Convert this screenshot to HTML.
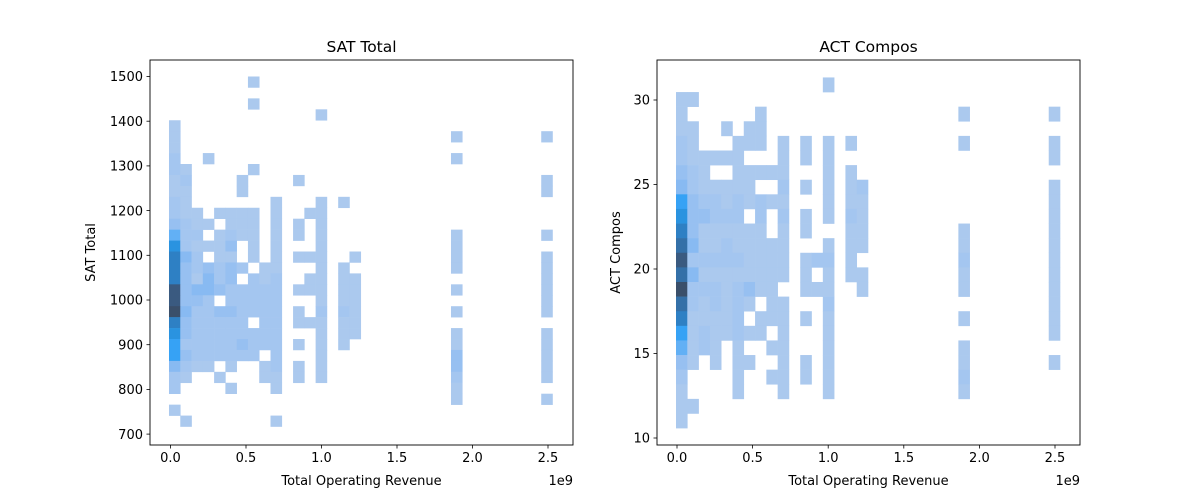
<!DOCTYPE html>
<html><head><meta charset="utf-8"><style>
html,body{margin:0;padding:0;background:#fff;}
svg{display:block;font-family:"DejaVu Sans","Liberation Sans",sans-serif;}
</style></head><body>
<svg id="fig" width="1200" height="500" viewBox="0 0 1200 500" xmlns="http://www.w3.org/2000/svg">
<rect width="1200" height="500" fill="#fff"/>
<g id="left"></g>
<g id="right"></g>
</svg>
<script>
// ---- data: [row, col, count] bins ----
const revTicks = [0, 0.5, 1.0, 1.5, 2.0, 2.5];
const revTickLabels = ["0.0", "0.5", "1.0", "1.5", "2.0", "2.5"];
const satTicks = [700, 800, 900, 1000, 1100, 1200, 1300, 1400, 1500];
const actTicks = [10, 15, 20, 25, 30];
const revBinWidth = 0.0747;
const satBinHeight = 24.47;
const actBinHeight = 0.8645;
const satTop = 1500;
const actTop = 30.47;
const satCells = [
[0,7,1],[2,7,1],[3,13,1],[4,0,1],[5,0,1],[5,25,1],[5,33,1],[6,0,1],[7,0,2],[7,3,1],[7,25,1],
[8,0,2],[8,1,1],[8,7,1],[9,0,1],[9,1,2],[9,6,1],[9,11,1],[9,33,1],[10,0,1],[10,1,1],[10,6,1],[10,33,1],
[11,0,2],[11,1,1],[11,9,1],[11,13,1],[11,15,1],
[12,0,2],[12,1,1],[12,2,1],[12,4,1],[12,5,1],[12,6,1],[12,7,1],[12,9,1],[12,12,1],[12,13,1],
[13,0,3],[13,1,2],[13,2,1],[13,3,1],[13,5,1],[13,6,1],[13,7,1],[13,9,1],[13,11,1],[13,13,1],
[14,0,5],[14,1,2],[14,2,2],[14,4,1],[14,5,2],[14,6,1],[14,7,1],[14,9,1],[14,11,1],[14,13,1],[14,25,1],[14,33,1],
[15,0,7],[15,1,2],[15,2,1],[15,3,1],[15,4,1],[15,5,3],[15,7,1],[15,9,1],[15,13,1],[15,25,1],
[16,0,8],[16,1,4],[16,2,2],[16,4,1],[16,5,1],[16,7,1],[16,9,1],[16,11,1],[16,12,1],[16,13,1],[16,16,1],[16,25,1],[16,33,1],
[17,0,8],[17,1,3],[17,2,2],[17,3,3],[17,4,2],[17,5,3],[17,6,2],[17,8,1],[17,9,1],[17,13,1],[17,15,1],[17,25,1],[17,33,1],
[18,0,8],[18,1,3],[18,2,1],[18,3,4],[18,4,2],[18,5,3],[18,7,2],[18,8,1],[18,9,2],[18,12,1],[18,13,1],[18,15,1],[18,16,1],[18,33,1],
[19,0,10],[19,1,3],[19,2,4],[19,3,4],[19,4,3],[19,5,2],[19,6,2],[19,7,2],[19,8,2],[19,9,2],[19,11,1],[19,12,1],[19,13,1],[19,15,1],[19,16,1],[19,25,1],[19,33,1],
[20,0,10],[20,1,3],[20,2,3],[20,3,2],[20,5,2],[20,6,2],[20,7,2],[20,8,2],[20,9,2],[20,13,1],[20,15,1],[20,16,1],[20,33,1],
[21,0,11],[21,1,4],[21,2,2],[21,3,2],[21,4,3],[21,5,3],[21,6,2],[21,7,2],[21,8,2],[21,9,2],[21,11,1],[21,13,2],[21,15,2],[21,16,1],[21,25,1],[21,33,1],
[22,0,8],[22,1,3],[22,2,2],[22,3,2],[22,4,2],[22,5,2],[22,6,2],[22,8,2],[22,9,2],[22,11,1],[22,12,1],[22,13,1],[22,15,1],[22,16,1],
[23,0,7],[23,1,3],[23,2,2],[23,3,2],[23,4,2],[23,5,2],[23,6,2],[23,7,2],[23,8,2],[23,9,2],[23,13,1],[23,15,1],[23,16,1],[23,25,1],[23,33,1],
[24,0,6],[24,1,2],[24,2,2],[24,3,2],[24,4,2],[24,5,2],[24,6,3],[24,7,2],[24,8,2],[24,9,2],[24,11,1],[24,13,1],[24,15,1],[24,25,1],[24,33,1],
[25,0,6],[25,1,3],[25,2,2],[25,3,2],[25,4,2],[25,5,2],[25,6,2],[25,7,2],[25,9,2],[25,13,1],[25,25,3],[25,33,1],
[26,0,4],[26,1,2],[26,2,1],[26,3,1],[26,5,1],[26,8,1],[26,9,2],[26,11,1],[26,13,1],[26,25,3],[26,33,1],
[27,0,2],[27,1,1],[27,4,1],[27,8,1],[27,9,1],[27,11,1],[27,13,1],[27,25,2],[27,33,1],
[28,0,2],[28,5,1],[28,9,1],[28,25,1],[29,25,1],[29,33,1],[30,0,1],[31,1,1],[31,9,1]
];
const actCells = [
[-1,13,1],[0,0,1],[0,1,1],[1,0,1],[1,7,1],[1,25,1],[1,33,1],
[2,0,1],[2,1,1],[2,4,1],[2,6,1],[2,7,1],
[3,0,2],[3,1,1],[3,5,1],[3,6,1],[3,7,1],[3,9,1],[3,11,1],[3,13,1],[3,15,1],[3,25,1],[3,33,1],
[4,0,2],[4,1,1],[4,2,1],[4,3,1],[4,4,1],[4,5,1],[4,9,1],[4,11,1],[4,13,1],[4,33,1],
[5,0,3],[5,1,2],[5,2,1],[5,5,1],[5,6,1],[5,7,1],[5,8,1],[5,9,1],[5,13,1],[5,15,1],
[6,0,4],[6,1,2],[6,2,1],[6,3,1],[6,4,1],[6,5,1],[6,6,1],[6,9,2],[6,11,1],[6,13,1],[6,15,1],[6,16,2],[6,33,1],
[7,0,6],[7,1,3],[7,2,2],[7,3,2],[7,4,1],[7,5,2],[7,6,1],[7,7,2],[7,8,1],[7,9,1],[7,13,1],[7,15,1],[7,16,1],[7,33,1],
[8,0,7],[8,1,3],[8,2,3],[8,3,2],[8,4,2],[8,5,2],[8,7,2],[8,9,2],[8,11,1],[8,13,1],[8,15,2],[8,16,1],[8,33,1],
[9,0,8],[9,1,3],[9,2,1],[9,3,1],[9,4,1],[9,5,1],[9,6,1],[9,7,1],[9,9,1],[9,11,1],[9,15,1],[9,16,1],[9,25,1],[9,33,1],
[10,0,9],[10,1,4],[10,2,1],[10,3,1],[10,4,2],[10,5,1],[10,6,1],[10,7,1],[10,8,1],[10,9,1],[10,13,1],[10,15,1],[10,16,1],[10,25,1],[10,33,1],
[11,0,10],[11,1,2],[11,2,2],[11,3,2],[11,4,2],[11,5,2],[11,6,1],[11,7,1],[11,8,1],[11,9,1],[11,11,1],[11,12,2],[11,13,2],[11,15,1],[11,25,2],[11,33,1],
[12,0,9],[12,1,4],[12,2,1],[12,3,1],[12,4,1],[12,5,1],[12,6,1],[12,7,1],[12,8,1],[12,9,1],[12,11,1],[12,13,1],[12,15,1],[12,16,1],[12,25,1],[12,33,1],
[13,0,11],[13,1,2],[13,2,2],[13,3,2],[13,4,1],[13,5,2],[13,6,3],[13,7,1],[13,8,1],[13,11,1],[13,12,1],[13,13,1],[13,16,1],[13,25,1],[13,33,1],
[14,0,9],[14,1,2],[14,2,1],[14,3,2],[14,4,1],[14,5,2],[14,6,1],[14,8,1],[14,9,1],[14,13,2],[14,33,1],
[15,0,8],[15,1,1],[15,2,1],[15,3,1],[15,4,1],[15,5,2],[15,7,1],[15,8,1],[15,9,1],[15,11,1],[15,13,1],[15,25,1],[15,33,1],
[16,0,6],[16,1,1],[16,2,2],[16,3,1],[16,4,1],[16,5,2],[16,6,1],[16,7,1],[16,9,1],[16,13,1],[16,33,1],
[17,0,5],[17,1,1],[17,2,2],[17,3,1],[17,5,1],[17,8,1],[17,9,1],[17,13,1],[17,25,1],
[18,0,3],[18,1,1],[18,3,1],[18,5,1],[18,6,1],[18,9,1],[18,11,1],[18,13,1],[18,25,1],[18,33,1],
[19,0,2],[19,5,1],[19,8,1],[19,9,1],[19,11,1],[19,13,1],[19,25,2],
[20,0,1],[20,5,1],[20,9,1],[20,13,1],[20,25,1],
[21,0,1],[21,1,1],[22,0,1]
];
const palette = ["#abc9ee","#a4c6f0","#97c0f1","#88baf2","#62b0f5","#36a2f5","#2a93e0","#2e80c4","#3470a8","#3a5a80","#3a4f6a"];

const NS = "http://www.w3.org/2000/svg";
function mk(parent, tag, attrs, text) {
  const e = document.createElementNS(NS, tag);
  for (const k in attrs) e.setAttribute(k, attrs[k]);
  if (text !== undefined) e.textContent = text;
  parent.appendChild(e);
  return e;
}

function drawChart(g, cfg) {
  const {x0, x1, y0, y1, xScale, yScale, cells, revBin0, yTopVal, yBin, yTicks, yFmt, title, ylabel, prefix} = cfg;
  cells.forEach(c => {
    const [r, k, n] = c;
    const xa = xScale(revBin0 + k * revBinWidth), xb = xScale(revBin0 + (k + 1) * revBinWidth);
    const ya = yScale(yTopVal - r * yBin), yb = yScale(yTopVal - (r + 1) * yBin);
    const rect = mk(g, "rect", {x: xa, y: ya, width: xb - xa + 0.3, height: yb - ya + 0.3, fill: palette[Math.min(n, palette.length) - 1]});
    
    
  });
  const fr = mk(g, "rect", {x: x0, y: y0, width: x1 - x0, height: y1 - y0, fill: "none", stroke: "#000", "stroke-width": 0.9});
  
  
  revTicks.forEach((v, i) => {
    const x = xScale(v);
    const t = mk(g, "line", {x1: x, x2: x, y1: y1, y2: y1 + 3.5, stroke: "#000", "stroke-width": 0.8});
    
    
    const l = mk(g, "text", {x: x, y: y1 + 17, "font-size": 13, "text-anchor": "middle", fill: "#000"}, revTickLabels[i]);
    
    
  });
  yTicks.forEach(v => {
    const y = yScale(v);
    const t = mk(g, "line", {x1: x0 - 3.5, x2: x0, y1: y, y2: y, stroke: "#000", "stroke-width": 0.8});
    
    
    const l = mk(g, "text", {x: x0 - 7, y: y + 4.7, "font-size": 13, "text-anchor": "end", fill: "#000"}, yFmt(v));
    
    
  });
  const off = mk(g, "text", {x: x1, y: y1 + 40, "font-size": 13, "text-anchor": "end", fill: "#000"}, "1e9");
  
  
  const xl = mk(g, "text", {x: (x0 + x1) / 2, y: y1 + 40, "font-size": 13, "text-anchor": "middle", fill: "#000"}, "Total Operating Revenue");
  
  
  const yl = mk(g, "text", {x: 0, y: 0, "font-size": 13, "text-anchor": "middle", fill: "#000", transform: `translate(${cfg.ylabelX},${(y0 + y1) / 2}) rotate(-90)`}, ylabel);
  
  
  const tt = mk(g, "text", {x: (x0 + x1) / 2, y: y0 - 8, "font-size": 15.5, "text-anchor": "middle", fill: "#000"}, title);
  
  
}

drawChart(document.getElementById("left"), {
  x0: 150, x1: 573, y0: 60, y1: 445,
  xScale: v => 170.5 + v * 151,
  yScale: s => 300 - (s - 1000) * 0.447,
  cells: satCells, revBin0: -0.01, yTopVal: satTop, yBin: satBinHeight,
  yTicks: satTicks, yFmt: v => String(v), title: "SAT Total", ylabel: "SAT Total", ylabelX: 95, prefix: "sat"
});
drawChart(document.getElementById("right"), {
  x0: 657, x1: 1080, y0: 60, y1: 445,
  xScale: v => 677 + v * 151.2,
  yScale: a => 269 - (a - 20) * 16.9,
  cells: actCells, revBin0: -0.0066, yTopVal: actTop, yBin: actBinHeight,
  yTicks: actTicks, yFmt: v => String(v), title: "ACT Compos", ylabel: "ACT Compos", ylabelX: 620, prefix: "act"
});
</script>
</body></html>
